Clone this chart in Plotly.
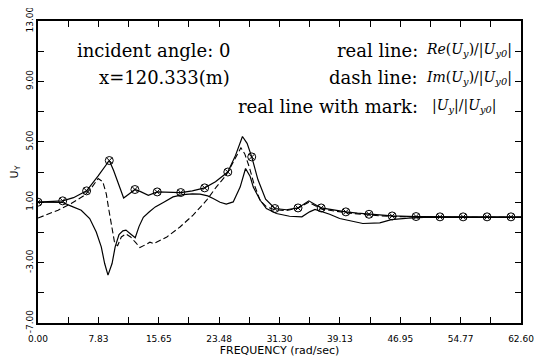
import plotly.graph_objects as go

# ---- data ----
mag_x = [0, 1.5, 3.2, 4.6, 6.3, 7.8, 9.24, 9.8, 10.4, 11.1, 11.8, 12.56, 13.3, 14.3, 15.45, 17.0,
         18.5, 20.0, 21.6, 23.0, 24.6, 25.6, 26.5, 27.1, 27.7, 28.5, 29.5, 30.7, 32.2, 33.7, 35.1,
         36.7, 38.3, 39.9, 41.4, 42.9, 44.4, 45.9, 49.0, 52.1, 55.1, 58.2, 61.3, 62.6]
mag_y = [1.0, 1.02, 1.09, 1.3, 1.75, 2.75, 3.76, 3.1, 2.3, 1.28, 1.55, 1.84, 1.7, 1.46, 1.68, 1.66,
         1.64, 1.75, 1.95, 2.35, 3.0, 4.1, 5.35, 4.9, 4.0, 2.5, 1.2, 0.58, 0.5, 0.62, 1.09,
         0.62, 0.48, 0.36, 0.27, 0.2, 0.14, 0.09, 0.05, 0.03, 0.03, 0.03, 0.03, 0.03]

mark_x = [0, 3.2, 6.3, 9.24, 12.56, 15.45, 18.5, 21.6, 24.6, 27.7, 30.7, 33.7, 36.7, 39.9,
          42.9, 45.9, 49.0, 52.1, 55.1, 58.2, 61.3]
mark_y = [1.0, 1.09, 1.75, 3.76, 1.84, 1.68, 1.64, 1.95, 3.0, 4.0, 0.58, 0.62, 0.62, 0.36,
          0.2, 0.09, 0.05, 0.03, 0.03, 0.03, 0.03]

re_x = [0, 1.5, 3.2, 4.3, 5.6, 6.7, 7.55, 8.2, 8.64, 9.07, 9.6, 10.0, 10.5, 11.0, 11.4, 12.0,
        12.6, 13.1, 13.65, 14.4, 15.2, 16.3, 17.5, 18.8, 20.0, 21.0, 22.0, 22.7, 23.6, 24.4,
        25.3, 26.2, 26.9, 27.5, 27.9, 28.8, 29.6, 30.9, 32.6, 34.2, 35.2, 35.9, 37.8, 39.1,
        42.1, 44.3, 45.8, 48.0, 50.0, 55.0, 62.6]
re_y = [1.0, 1.0, 0.98, 0.74, 0.47, -0.08, -0.97, -1.96, -3.06, -3.83, -3.06, -1.96, -1.15,
        -0.9, -0.85, -1.1, -1.35, -0.6, 0.0, 0.35, 0.69, 1.0, 1.35, 1.5, 1.55, 1.53, 1.42, 1.24,
        1.0, 0.87, 1.02, 2.0, 3.23, 2.7, 2.0, 1.13, 0.58, 0.25, 0.07, 0.03, 0.36, 0.52, 0.2,
        -0.08, -0.41, -0.37, -0.15, -0.05, 0.0, 0.0, 0.0]

im_x = [0, 2.6, 4.3, 6.05, 7.0, 7.8, 8.4, 8.85, 9.2, 9.5, 9.9, 10.3, 10.8, 11.4, 12.0, 12.7,
        13.2, 14.0, 14.5, 15.0, 16.7, 18.4, 20.1, 21.85, 23.1, 24.4, 25.7, 26.3, 26.8, 27.4,
        28.0, 28.8, 29.6, 30.7, 32.2, 33.7, 35.1, 36.7, 39.9, 42.9, 45.9, 49.0, 52.0, 62.6]
im_y = [-0.05, 0.47, 0.91, 1.46, 2.0, 2.57, 2.35, 1.55, 0.45, -0.55, -1.6, -1.9, -1.3, -1.1,
        -1.3, -1.7, -2.0, -1.8, -1.65, -1.75, -1.3, -0.64, 0.14, 1.13, 2.0, 2.8, 4.0, 4.6, 4.2,
        3.3, 2.2, 1.1, 0.7, 0.5, 0.45, 0.6, 1.0, 0.55, 0.3, 0.15, 0.05, 0.0, 0.0, 0.0]

x_tickvals = [0.00, 7.83, 15.65, 23.48, 31.30, 39.13, 46.95, 54.77, 62.60]
x_ticktext = ["0.00", "7.83", "15.65", "23.48", "31.30", "39.13", "46.95", "54.77", "62.60"]
y_tickvals = [-7, -3, 1, 5, 9, 13]
y_ticktext = ["-7.00", "-3.00", "1.00", "5.00", "9.00", "13.00"]

fig = go.Figure()
fig.add_trace(go.Scatter(x=re_x, y=re_y, mode="lines", line=dict(color="black", width=1.2),
                         showlegend=False))
fig.add_trace(go.Scatter(x=im_x, y=im_y, mode="lines",
                         line=dict(color="black", width=1.1, dash="6px,3px"), showlegend=False))
fig.add_trace(go.Scatter(x=mag_x, y=mag_y, mode="lines", line=dict(color="black", width=1.2),
                         showlegend=False))
fig.add_trace(go.Scatter(x=mark_x, y=mark_y, mode="markers",
                         marker=dict(symbol="circle-x-open", size=8, color="black",
                                     line=dict(width=1)), showlegend=False))

tickfont = dict(family="DejaVu Sans", size=9, color="black")
fig.update_xaxes(range=[0, 62.6], tickmode="array", tickvals=x_tickvals, ticktext=x_ticktext,
                 ticks="inside", ticklen=6, tickwidth=1, tickcolor="black", automargin=False,
                 ticklabeloverflow="allow",
                 minor=dict(dtick=3.9125, tick0=0, ticks="inside", ticklen=6, tickcolor="black"),
                 showline=True, linecolor="black", linewidth=1.5, mirror="allticks",
                 showgrid=False, zeroline=False, tickfont=tickfont, ticklabelstandoff=6,
                 title=dict(text="FREQUENCY (rad/sec)", standoff=2,
                            font=dict(family="DejaVu Sans", size=11, color="black")))
fig.update_yaxes(range=[-7, 13], tickmode="array", tickvals=y_tickvals, ticktext=y_ticktext,
                 tickangle=-90, automargin=False, ticklabeloverflow="allow",
                 ticks="inside", ticklen=6, tickwidth=1, tickcolor="black",
                 minor=dict(dtick=2, tick0=-7, ticks="inside", ticklen=6, tickcolor="black"),
                 showline=True, linecolor="black", linewidth=1.5, mirror="allticks",
                 showgrid=False, zeroline=False, tickfont=tickfont,
                 title=dict(text="U<sub>Y</sub>", standoff=4,
                            font=dict(family="DejaVu Sans", size=11, color="black")))

serif = dict(family="DejaVu Serif", size=18, color="black")
math = dict(family="DejaVu Serif", size=14, color="black")
anns = [
    dict(text="incident angle: 0", x=232, y=50, xanchor="right", font=serif),
    dict(text="x=120.333(m)", x=232, y=78, xanchor="right", font=serif),
    dict(text="real line:", x=420, y=50, xanchor="right", font=serif),
    dict(text="dash line:", x=420, y=78, xanchor="right", font=serif),
    dict(text="real line with mark:", x=420, y=106, xanchor="right", font=serif),
    dict(text="<i>Re</i>(<i>U<sub>y</sub></i>)/|<i>U<sub>y0</sub></i>|", x=424, y=50,
         xanchor="left", font=math),
    dict(text="<i>Im</i>(<i>U<sub>y</sub></i>)/|<i>U<sub>y0</sub></i>|", x=424, y=78,
         xanchor="left", font=math),
    dict(text="|<i>U<sub>y</sub></i>|/|<i>U<sub>y0</sub></i>|", x=430, y=106,
         xanchor="left", font=math),
]
for a in anns:
    fig.add_annotation(xref="paper", yref="paper",
                       x=(a["x"] - 38) / (521 - 38), y=1 - (a["y"] - 21) / (323 - 21),
                       yanchor="middle", showarrow=False, text=a["text"],
                       xanchor=a["xanchor"], font=a["font"])

# The page body adds an 8px offset, so the figure is sized to the remaining window area.
fig.update_layout(width=541, height=353, margin=dict(l=30, r=28, t=13, b=38),
                  paper_bgcolor="white", plot_bgcolor="white")
fig.write_html("out.html")
